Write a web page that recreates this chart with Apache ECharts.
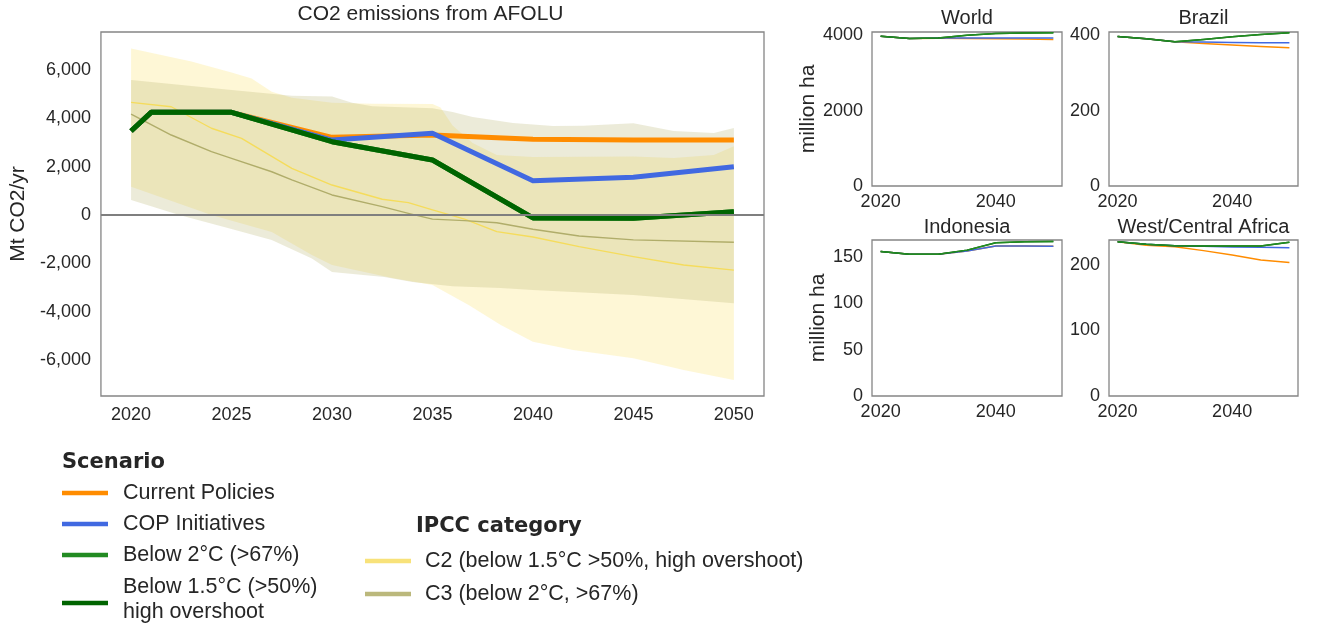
<!DOCTYPE html>
<html><head><meta charset="utf-8">
<script src="https://cdn.jsdelivr.net/npm/echarts@6/dist/echarts.min.js"></script>
<style>html,body{margin:0;padding:0;background:#fff}#c{width:1324px;height:630px}</style>
</head><body><div id="c"></div>
<script>
// ---------------- DATA ----------------
const mainYears = [2020, 2021, 2025, 2030, 2035, 2040, 2045, 2050];
const currentPolicies = [3475, 4247, 4247, 3213, 3310, 3130, 3105, 3105];
const copInitiatives  = [3475, 4247, 4247, 3100, 3379, 1420, 1560, 2000];
const below2C         = [3475, 4247, 4247, 3034, 2275, -120, -138, 138];
const below15C        = [3475, 4247, 4247, 3034, 2275, -120, -138, 138];

const c2MedianYears = [2020, 2022, 2024, 2025.5, 2028, 2030, 2032.5, 2033.8, 2035, 2036.6, 2038.2, 2040, 2042.3, 2045, 2047.5, 2050];
const c2Median      = [4660, 4480, 3590, 3170, 1930, 1240, 650, 510, 210, -170, -690, -910, -1310, -1720, -2070, -2280];
const c3MedianYears = [2020, 2022, 2024, 2025, 2027, 2028, 2030, 2032.5, 2033.8, 2035, 2036.6, 2038.2, 2040, 2042.3, 2045, 2050];
const c3Median      = [4170, 3310, 2620, 2340, 1790, 1450, 830, 345, 70, -170, -234, -320, -590, -870, -1030, -1130];

const c2UpperYears = [2020, 2023, 2025, 2026, 2027, 2028, 2030, 2032, 2035, 2035.4, 2036, 2037, 2038.2, 2040, 2045, 2047, 2049, 2050];
const c2Upper      = [6895, 6350, 5900, 5650, 5100, 4850, 4650, 4600, 4590, 4450, 3700, 2980, 2480, 2400, 2420, 2360, 2480, 2850];
const c2LowerYears = [2020, 2024, 2027, 2029, 2030, 2033, 2035, 2036.8, 2038.4, 2040, 2042, 2045, 2047.5, 2050];
const c2Lower      = [1170, 0, -700, -1650, -2070, -2610, -2900, -3720, -4550, -5240, -5590, -5930, -6410, -6830];
const c3UpperYears = [2020, 2025, 2028, 2030, 2031, 2032, 2035, 2036, 2037, 2039, 2041, 2042.5, 2045, 2047, 2049, 2050];
const c3Upper      = [5585, 5170, 4940, 4900, 4650, 4500, 4420, 4260, 4060, 3810, 3680, 3690, 3800, 3480, 3390, 3600];
const c3LowerYears = [2020, 2022.4, 2025, 2027, 2029, 2030, 2032.6, 2034, 2036, 2038.4, 2040, 2045, 2050];
const c3Lower      = [620, 0, -580, -1030, -1800, -2360, -2570, -2770, -2950, -3020, -3100, -3310, -3650];

const xTickLabels = [2020, 2025, 2030, 2035, 2040, 2045, 2050];
const yTickLabels = [-6000, -4000, -2000, 0, 2000, 4000, 6000];

const panelYears = [2020, 2025, 2030, 2035, 2040, 2045, 2050];
const panelXTicks = [2020, 2040];
const worldOrange = [3974, 3913, 3920, 3915, 3910, 3900, 3890];
const worldBlue   = [3974, 3913, 3925, 3930, 3930, 3930, 3928];
const worldGreen  = [3974, 3913, 3930, 4000, 4044, 4060, 4070];
const brazilOrange = [397, 391, 383, 378, 374, 370, 367];
const brazilBlue   = [397, 391, 383, 382, 381, 380.5, 380];
const brazilGreen  = [397, 391, 383, 389, 396, 402, 407];
const indoOrange = [155.4, 152.5, 152.5, 156, 161.4, 161.4, 161.1];
const indoBlue   = [155.4, 152.5, 152.5, 156, 161.4, 161.4, 161.1];
const indoGreen  = [155.4, 152.5, 152.5, 157, 165, 166, 166.4];
const wcaOrange = [235.4, 230, 227.8, 221.8, 215.2, 207.6, 203.5];
const wcaBlue   = [235.4, 231.4, 229.3, 228.5, 227.5, 226.8, 226.3];
const wcaGreen  = [235.4, 231.4, 229.3, 228.8, 228.8, 228.8, 234.4];

const panelTitles = ['World', 'Brazil', 'Indonesia', 'West/Central Africa'];
const panelYTicks = [[0, 2000, 4000], [0, 200, 400], [0, 50, 100, 150], [0, 100, 200]];
const panelYMax = [4087, 408.7, 167.9, 238];

const scenarioNames = ['Current Policies', 'COP Initiatives', 'Below 2°C (>67%)', 'Below 1.5°C (>50%)\nhigh overshoot'];
const ipccNames = ['C2 (below 1.5°C >50%, high overshoot)', 'C3 (below 2°C, >67%)'];

// ---------------- STYLE ----------------
const COL = { cp: '#ff8c00', cop: '#4169e1', b2: '#228b22', b15: '#006400', c2: '#f5dc5c', c3: '#b0ad6a' };
const FONT = 'Liberation Sans, Arial, sans-serif';
const TXT = '#262626';
const pairs = (xs, ys) => xs.map((x, i) => [x, ys[i]]);
const plain = v => String(Math.round(v));

const grids = [
  { left: 97, top: 32, width: 667, height: 364 },
  { left: 872, top: 32, width: 190, height: 154 },
  { left: 1109, top: 32, width: 189, height: 154 },
  { left: 872, top: 240, width: 190, height: 156 },
  { left: 1109, top: 240, width: 189, height: 156 }
].map(g => Object.assign({ show: true, borderColor: '#858585', borderWidth: 1.3, backgroundColor: 'transparent', containLabel: false }, g));

const xAxes = [{
  type: 'value', gridIndex: 0, min: 2018.5, max: 2051.5,
  axisLine: { show: false }, axisTick: { show: false }, splitLine: { show: false },
  axisLabel: { customValues: xTickLabels, fontSize: 18, fontFamily: FONT, color: TXT, margin: 10, formatter: plain }
}];
const yAxes = [{
  type: 'value', gridIndex: 0, min: -7490, max: 7573,
  axisLine: { show: false }, axisTick: { show: false }, splitLine: { show: false },
  axisLabel: { customValues: yTickLabels, fontSize: 18, fontFamily: FONT, color: TXT, margin: 10,
    formatter: v => Number(v).toLocaleString('en-US') },
  name: 'Mt CO2/yr', nameLocation: 'middle', nameGap: 68,
  nameTextStyle: { fontSize: 21, fontFamily: FONT, color: TXT }
}];
for (let p = 0; p < 4; p++) {
  xAxes.push({
    type: 'value', gridIndex: p + 1, min: 2018.5, max: 2051.5,
    axisLine: { show: false }, axisTick: { show: false }, splitLine: { show: false },
    axisLabel: { customValues: panelXTicks, fontSize: 18, fontFamily: FONT, color: TXT, margin: 7, formatter: plain }
  });
  const ya = {
    type: 'value', gridIndex: p + 1, min: 0, max: panelYMax[p],
    axisLine: { show: false }, axisTick: { show: false }, splitLine: { show: false },
    axisLabel: { customValues: panelYTicks[p], fontSize: 18, fontFamily: FONT, color: TXT, margin: 9, formatter: plain }
  };
  if (p === 0 || p === 2) {
    Object.assign(ya, { name: 'million ha', nameLocation: 'middle', nameGap: p === 0 ? 53 : 43,
      nameTextStyle: { fontSize: 21, fontFamily: FONT, color: TXT } });
  }
  yAxes.push(ya);
}

function band(upYears, up, loYears, lo, fill, z) {
  const poly = pairs(upYears, up).concat(pairs(loYears, lo).reverse());
  return {
    type: 'custom', xAxisIndex: 0, yAxisIndex: 0, z: z, silent: true, data: poly,
    encode: { x: 0, y: 1 },
    renderItem: (params, api) => {
      if (params.dataIndex !== 0) return null;
      return { type: 'polygon', shape: { points: poly.map(p => api.coord(p)) }, style: { fill: fill } };
    }
  };
}
function line(data, color, width, axis, z, extra) {
  return Object.assign({
    type: 'line', data: data, xAxisIndex: axis, yAxisIndex: axis, showSymbol: false, symbol: 'none',
    lineStyle: { color: color, width: width, cap: 'butt', join: 'round' }, z: z, silent: true, animation: false
  }, extra || {});
}

const series = [
  band(c2UpperYears, c2Upper, c2LowerYears, c2Lower, 'rgba(250,222,90,0.25)', 1),
  band(c3UpperYears, c3Upper, c3LowerYears, c3Lower, 'rgba(179,175,103,0.25)', 2),
  line(pairs(c2MedianYears, c2Median), COL.c2, 1.4, 0, 3),
  line(pairs(c3MedianYears, c3Median), COL.c3, 1.4, 0, 3, {
    markLine: { silent: true, symbol: 'none', label: { show: false },
      lineStyle: { color: '#7f7f7f', width: 1.8, type: 'solid' }, data: [{ yAxis: 0 }] }
  }),
  line(pairs(mainYears, currentPolicies), COL.cp, 5, 0, 4),
  line(pairs(mainYears, copInitiatives), COL.cop, 5, 0, 4),
  line(pairs(mainYears, below2C), COL.b2, 5, 0, 4),
  line(pairs(mainYears, below15C), COL.b15, 5, 0, 4)
];
const panelData = [
  [worldOrange, worldBlue, worldGreen],
  [brazilOrange, brazilBlue, brazilGreen],
  [indoOrange, indoBlue, indoGreen],
  [wcaOrange, wcaBlue, wcaGreen]
];
panelData.forEach((d, p) => {
  series.push(line(pairs(panelYears, d[0]), COL.cp, 1.5, p + 1, 4));
  series.push(line(pairs(panelYears, d[1]), COL.cop, 1.5, p + 1, 4));
  series.push(line(pairs(panelYears, d[2]), COL.b15, 1.5, p + 1, 4));
  series.push(line(pairs(panelYears, d[2]), COL.b2, 1.5, p + 1, 4));
});

// ---------------- TEXT / LEGEND ----------------
const txt = (text, x, y, size, align, weight, family) => ({
  type: 'text', x: x, y: y, silent: true,
  style: { text: text, fontSize: size, fontFamily: family || FONT, fontWeight: weight || 'normal',
    fill: TXT, align: align || 'left', verticalAlign: 'middle', lineHeight: 25 }
});
const seg = (x1, x2, y, color) => ({
  type: 'line', silent: true, shape: { x1: x1, y1: y, x2: x2, y2: y },
  style: { stroke: color, lineWidth: 4.5, lineCap: 'butt' }
});
const graphics = [
  txt('CO2 emissions from AFOLU', 430.5, 14, 21, 'center'),
  txt(panelTitles[0], 967, 18, 20, 'center'),
  txt(panelTitles[1], 1203.5, 18, 20, 'center'),
  txt(panelTitles[2], 967, 227, 20, 'center'),
  txt(panelTitles[3], 1203.5, 227, 20, 'center'),
  txt('Scenario', 62, 463, 21, 'left', 'bold', 'DejaVu Sans'),
  txt('IPCC category', 416, 527, 21, 'left', 'bold', 'DejaVu Sans')
];
const scenColors = [COL.cp, COL.cop, COL.b2, COL.b15];
const scenY = [493, 524, 555, 600];
const scenLineY = [493, 524, 555, 603];
scenarioNames.forEach((n, i) => {
  graphics.push(seg(62, 108, scenLineY[i], scenColors[i]));
  graphics.push(txt(n, 123, scenY[i], 21.5, 'left'));
});
const ipccColors = ['#f8e27a', '#bbb87c'];
const ipccY = [561, 594];
ipccNames.forEach((n, i) => {
  graphics.push(seg(365, 411, ipccY[i], ipccColors[i]));
  graphics.push(txt(n, 425, ipccY[i], 21.5, 'left'));
});

const chart = echarts.init(document.getElementById('c'), null, { renderer: 'canvas' });
chart.setOption({
  animation: false,
  backgroundColor: '#fff',
  textStyle: { fontFamily: FONT },
  grid: grids, xAxis: xAxes, yAxis: yAxes, series: series, graphic: graphics
});
</script></body></html>
